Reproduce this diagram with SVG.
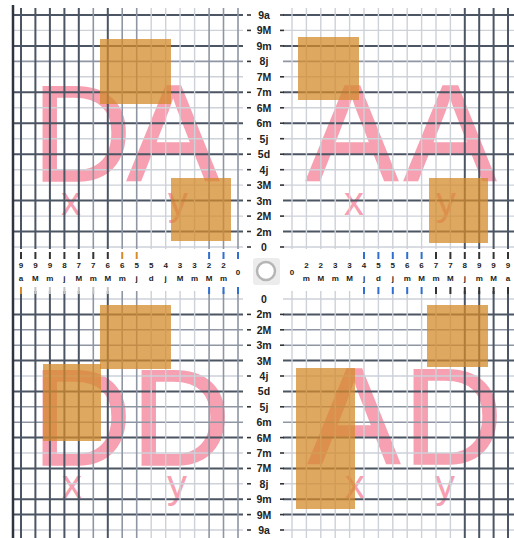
<svg xmlns="http://www.w3.org/2000/svg" width="514" height="538" viewBox="0 0 514 538">
<style>
.big{font-family:"Liberation Sans",Arial,sans-serif;font-size:138px;fill:#f6a0b1;stroke:#f6a0b1;stroke-width:1.5}
.sm{font-family:"Liberation Sans",Arial,sans-serif;font-size:40px;fill:#f6a0b1;text-anchor:middle}
.d{stroke:#4b5563;stroke-width:2}
.m{stroke:#8f96a3;stroke-width:1.6}
.l{stroke:#cdd1d8;stroke-width:1.4}
.box{fill:#d4892a;fill-opacity:0.74}
.vl{font-family:"Liberation Sans",Arial,sans-serif;font-size:10.5px;font-weight:bold;fill:#222;text-anchor:middle}
.hl{font-family:"Liberation Sans",Arial,sans-serif;font-size:8px;font-weight:bold;fill:#222;text-anchor:middle}
.dash{stroke:#333;stroke-width:1.6}
.tb{stroke:#2f6fd0;stroke-width:2}
.to{stroke:#d98a2a;stroke-width:2}
.tk{stroke:#333;stroke-width:2}
.tg{stroke:#c4c4c4;stroke-width:2}
</style>
<rect width="514" height="538" fill="#ffffff"/>
<g id="letters">
<text class="big" x="32" y="181">D</text>
<text class="big" x="173" y="181" text-anchor="middle">A</text>
<text class="sm" x="71" y="215">x</text>
<text class="sm" x="178" y="215">y</text>
<text class="big" x="352" y="181" text-anchor="middle">A</text>
<text class="big" x="450" y="181" text-anchor="middle">A</text>
<text class="sm" x="354" y="215">x</text>
<text class="sm" x="446" y="215">y</text>
<text class="big" x="32" y="465">D</text>
<text class="big" x="131" y="465">D</text>
<text class="sm" x="72" y="498">x</text>
<text class="sm" x="177" y="498">y</text>
<text class="big" x="354" y="464" text-anchor="middle">A</text>
<text class="big" x="403" y="464">D</text>
<text class="sm" x="355" y="498">x</text>
<text class="sm" x="445" y="498">y</text>
</g>
<g id="connectors">
<g id="top-h">
<line class="l" x1="13" y1="247" x2="243" y2="247"/><line class="l" x1="283" y1="247" x2="514" y2="247"/>
<line class="d" x1="13" y1="231.5" x2="243" y2="231.5"/><line class="d" x1="283" y1="231.5" x2="514" y2="231.5"/>
<line class="l" x1="13" y1="216.1" x2="243" y2="216.1"/><line class="l" x1="283" y1="216.1" x2="514" y2="216.1"/>
<line class="d" x1="13" y1="200.6" x2="243" y2="200.6"/><line class="d" x1="283" y1="200.6" x2="514" y2="200.6"/>
<line class="l" x1="13" y1="185.1" x2="243" y2="185.1"/><line class="l" x1="283" y1="185.1" x2="514" y2="185.1"/>
<line class="l" x1="13" y1="169.7" x2="243" y2="169.7"/><line class="l" x1="283" y1="169.7" x2="514" y2="169.7"/>
<line class="d" x1="13" y1="154.2" x2="243" y2="154.2"/><line class="d" x1="283" y1="154.2" x2="514" y2="154.2"/>
<line class="l" x1="13" y1="138.7" x2="243" y2="138.7"/><line class="l" x1="283" y1="138.7" x2="514" y2="138.7"/>
<line class="d" x1="13" y1="123.2" x2="243" y2="123.2"/><line class="d" x1="283" y1="123.2" x2="514" y2="123.2"/>
<line class="l" x1="13" y1="107.8" x2="243" y2="107.8"/><line class="l" x1="283" y1="107.8" x2="514" y2="107.8"/>
<line class="d" x1="13" y1="92.3" x2="243" y2="92.3"/><line class="d" x1="283" y1="92.3" x2="514" y2="92.3"/>
<line class="l" x1="13" y1="76.8" x2="243" y2="76.8"/><line class="l" x1="283" y1="76.8" x2="514" y2="76.8"/>
<line class="m" x1="13" y1="61.4" x2="243" y2="61.4"/><line class="m" x1="283" y1="61.4" x2="514" y2="61.4"/>
<line class="d" x1="13" y1="45.9" x2="243" y2="45.9"/><line class="d" x1="283" y1="45.9" x2="514" y2="45.9"/>
<line class="l" x1="13" y1="30.4" x2="243" y2="30.4"/><line class="l" x1="283" y1="30.4" x2="514" y2="30.4"/>
<line class="d" x1="13" y1="15" x2="243" y2="15"/><line class="d" x1="283" y1="15" x2="514" y2="15"/>
</g>
<g id="bottom-h">
<line class="l" x1="13" y1="299" x2="243" y2="299"/><line class="l" x1="283" y1="299" x2="514" y2="299"/>
<line class="d" x1="13" y1="314.4" x2="243" y2="314.4"/><line class="d" x1="283" y1="314.4" x2="514" y2="314.4"/>
<line class="m" x1="13" y1="329.8" x2="243" y2="329.8"/><line class="m" x1="283" y1="329.8" x2="514" y2="329.8"/>
<line class="m" x1="13" y1="345.2" x2="243" y2="345.2"/><line class="m" x1="283" y1="345.2" x2="514" y2="345.2"/>
<line class="d" x1="13" y1="360.6" x2="243" y2="360.6"/><line class="d" x1="283" y1="360.6" x2="514" y2="360.6"/>
<line class="l" x1="13" y1="376" x2="243" y2="376"/><line class="l" x1="283" y1="376" x2="514" y2="376"/>
<line class="d" x1="13" y1="391.4" x2="243" y2="391.4"/><line class="d" x1="283" y1="391.4" x2="514" y2="391.4"/>
<line class="m" x1="13" y1="406.8" x2="243" y2="406.8"/><line class="m" x1="283" y1="406.8" x2="514" y2="406.8"/>
<line class="m" x1="13" y1="422.2" x2="243" y2="422.2"/><line class="m" x1="283" y1="422.2" x2="514" y2="422.2"/>
<line class="d" x1="13" y1="437.6" x2="243" y2="437.6"/><line class="d" x1="283" y1="437.6" x2="514" y2="437.6"/>
<line class="l" x1="13" y1="453" x2="243" y2="453"/><line class="l" x1="283" y1="453" x2="514" y2="453"/>
<line class="d" x1="13" y1="468.4" x2="243" y2="468.4"/><line class="d" x1="283" y1="468.4" x2="514" y2="468.4"/>
<line class="l" x1="13" y1="483.8" x2="243" y2="483.8"/><line class="l" x1="283" y1="483.8" x2="514" y2="483.8"/>
<line class="d" x1="13" y1="499.2" x2="243" y2="499.2"/><line class="d" x1="283" y1="499.2" x2="514" y2="499.2"/>
<line class="d" x1="13" y1="514.6" x2="243" y2="514.6"/><line class="d" x1="283" y1="514.6" x2="514" y2="514.6"/>
<line class="l" x1="13" y1="530" x2="243" y2="530"/><line class="l" x1="283" y1="530" x2="514" y2="530"/>
</g>
<g id="left-v">
<line class="m" x1="238" y1="8" x2="238" y2="249"/><line class="m" x1="238" y1="291" x2="238" y2="538"/>
<line class="m" x1="223.5" y1="8" x2="223.5" y2="249"/><line class="m" x1="223.5" y1="291" x2="223.5" y2="538"/>
<line class="m" x1="209.1" y1="8" x2="209.1" y2="249"/><line class="m" x1="209.1" y1="291" x2="209.1" y2="538"/>
<line class="l" x1="194.6" y1="8" x2="194.6" y2="249"/><line class="l" x1="194.6" y1="291" x2="194.6" y2="538"/>
<line class="l" x1="180.1" y1="8" x2="180.1" y2="249"/><line class="l" x1="180.1" y1="291" x2="180.1" y2="538"/>
<line class="l" x1="165.7" y1="8" x2="165.7" y2="249"/><line class="l" x1="165.7" y1="291" x2="165.7" y2="538"/>
<line class="l" x1="151.2" y1="8" x2="151.2" y2="249"/><line class="l" x1="151.2" y1="291" x2="151.2" y2="538"/>
<line class="m" x1="136.7" y1="8" x2="136.7" y2="249"/><line class="m" x1="136.7" y1="291" x2="136.7" y2="538"/>
<line class="m" x1="122.2" y1="8" x2="122.2" y2="249"/><line class="m" x1="122.2" y1="291" x2="122.2" y2="538"/>
<line class="d" x1="107.8" y1="8" x2="107.8" y2="249"/><line class="d" x1="107.8" y1="291" x2="107.8" y2="538"/>
<line class="m" x1="93.3" y1="8" x2="93.3" y2="249"/><line class="m" x1="93.3" y1="291" x2="93.3" y2="538"/>
<line class="d" x1="78.8" y1="8" x2="78.8" y2="249"/><line class="d" x1="78.8" y1="291" x2="78.8" y2="538"/>
<line class="d" x1="64.4" y1="8" x2="64.4" y2="249"/><line class="d" x1="64.4" y1="291" x2="64.4" y2="538"/>
<line class="d" x1="49.9" y1="8" x2="49.9" y2="249"/><line class="d" x1="49.9" y1="291" x2="49.9" y2="538"/>
<line class="d" x1="35.4" y1="8" x2="35.4" y2="249"/><line class="d" x1="35.4" y1="291" x2="35.4" y2="538"/>
<line class="d" x1="21" y1="8" x2="21" y2="249"/><line class="d" x1="21" y1="291" x2="21" y2="538"/>
<line stroke="#2f3540" stroke-width="2.5" x1="13" y1="5" x2="13" y2="538"/>
</g>
<g id="right-v">
<line class="l" x1="292" y1="8" x2="292" y2="249"/><line class="l" x1="292" y1="291" x2="292" y2="538"/>
<line class="l" x1="306.4" y1="8" x2="306.4" y2="249"/><line class="l" x1="306.4" y1="291" x2="306.4" y2="538"/>
<line class="l" x1="320.8" y1="8" x2="320.8" y2="249"/><line class="l" x1="320.8" y1="291" x2="320.8" y2="538"/>
<line class="l" x1="335.2" y1="8" x2="335.2" y2="249"/><line class="l" x1="335.2" y1="291" x2="335.2" y2="538"/>
<line class="l" x1="349.6" y1="8" x2="349.6" y2="249"/><line class="l" x1="349.6" y1="291" x2="349.6" y2="538"/>
<line class="l" x1="364" y1="8" x2="364" y2="249"/><line class="l" x1="364" y1="291" x2="364" y2="538"/>
<line class="l" x1="378.4" y1="8" x2="378.4" y2="249"/><line class="l" x1="378.4" y1="291" x2="378.4" y2="538"/>
<line class="l" x1="392.8" y1="8" x2="392.8" y2="249"/><line class="l" x1="392.8" y1="291" x2="392.8" y2="538"/>
<line class="l" x1="407.2" y1="8" x2="407.2" y2="249"/><line class="l" x1="407.2" y1="291" x2="407.2" y2="538"/>
<line class="l" x1="421.6" y1="8" x2="421.6" y2="249"/><line class="l" x1="421.6" y1="291" x2="421.6" y2="538"/>
<line class="l" x1="436" y1="8" x2="436" y2="249"/><line class="l" x1="436" y1="291" x2="436" y2="538"/>
<line class="l" x1="450.4" y1="8" x2="450.4" y2="249"/><line class="l" x1="450.4" y1="291" x2="450.4" y2="538"/>
<line class="d" x1="464.8" y1="8" x2="464.8" y2="249"/><line class="d" x1="464.8" y1="291" x2="464.8" y2="538"/>
<line class="d" x1="479.2" y1="8" x2="479.2" y2="249"/><line class="d" x1="479.2" y1="291" x2="479.2" y2="538"/>
<line class="d" x1="493.6" y1="8" x2="493.6" y2="249"/><line class="d" x1="493.6" y1="291" x2="493.6" y2="538"/>
<line class="d" x1="508" y1="8" x2="508" y2="249"/><line class="d" x1="508" y1="291" x2="508" y2="538"/>
</g>
</g>
<g id="boxes">
<rect id="box-tl1" class="box" x="100" y="39" width="71" height="65"/>
<rect id="box-tl2" class="box" x="171" y="178" width="60" height="63"/>
<rect id="box-tr1" class="box" x="298" y="37" width="61" height="63"/>
<rect id="box-tr2" class="box" x="429" y="178" width="59" height="65"/>
<rect id="box-bl1" class="box" x="100" y="305" width="71" height="64"/>
<rect id="box-bl2" class="box" x="43" y="364" width="58" height="77"/>
<rect id="box-br1" class="box" x="427" y="305" width="61" height="62"/>
<rect id="box-br2" class="box" x="296" y="368" width="59" height="141"/>
</g>
<g id="vertical-ruler">
<g class="dash">
<line x1="247" y1="15" x2="251" y2="15"/><line x1="280" y1="15" x2="284" y2="15"/>
<line x1="247" y1="30.4" x2="251" y2="30.4"/><line x1="280" y1="30.4" x2="284" y2="30.4"/>
<line x1="280" y1="45.9" x2="284" y2="45.9"/>
<line x1="247" y1="61.4" x2="251" y2="61.4"/>
<line x1="280" y1="76.8" x2="284" y2="76.8"/>
<line x1="247" y1="92.3" x2="251" y2="92.3"/><line x1="280" y1="92.3" x2="284" y2="92.3"/>
<line x1="247" y1="107.8" x2="251" y2="107.8"/><line x1="280" y1="107.8" x2="284" y2="107.8"/>
<line x1="280" y1="123.2" x2="284" y2="123.2"/>
<line x1="247" y1="138.7" x2="251" y2="138.7"/><line x1="280" y1="138.7" x2="284" y2="138.7"/>
<line x1="247" y1="154.2" x2="251" y2="154.2"/><line x1="280" y1="154.2" x2="284" y2="154.2"/>
<line x1="247" y1="169.7" x2="251" y2="169.7"/><line x1="280" y1="169.7" x2="284" y2="169.7"/>
<line x1="247" y1="185.1" x2="251" y2="185.1"/><line x1="280" y1="185.1" x2="284" y2="185.1"/>
<line x1="247" y1="200.6" x2="251" y2="200.6"/>
<line x1="247" y1="216.1" x2="251" y2="216.1"/><line x1="280" y1="216.1" x2="284" y2="216.1"/>
<line x1="247" y1="231.5" x2="251" y2="231.5"/>
<line x1="247" y1="247" x2="251" y2="247"/><line x1="280" y1="247" x2="284" y2="247"/>
<line x1="247" y1="314.4" x2="251" y2="314.4"/><line x1="280" y1="314.4" x2="284" y2="314.4"/>
<line x1="247" y1="329.8" x2="251" y2="329.8"/><line x1="280" y1="329.8" x2="284" y2="329.8"/>
<line x1="247" y1="345.2" x2="251" y2="345.2"/><line x1="280" y1="345.2" x2="284" y2="345.2"/>
<line x1="247" y1="376" x2="251" y2="376"/><line x1="280" y1="376" x2="284" y2="376"/>
<line x1="247" y1="406.8" x2="251" y2="406.8"/><line x1="280" y1="406.8" x2="284" y2="406.8"/>
<line x1="247" y1="437.6" x2="251" y2="437.6"/><line x1="280" y1="437.6" x2="284" y2="437.6"/>
<line x1="247" y1="453" x2="251" y2="453"/><line x1="280" y1="453" x2="284" y2="453"/>
<line x1="247" y1="468.4" x2="251" y2="468.4"/><line x1="280" y1="468.4" x2="284" y2="468.4"/>
<line x1="247" y1="483.8" x2="251" y2="483.8"/><line x1="280" y1="483.8" x2="284" y2="483.8"/>
<line x1="247" y1="499.2" x2="251" y2="499.2"/><line x1="280" y1="499.2" x2="284" y2="499.2"/>
<line x1="247" y1="514.6" x2="251" y2="514.6"/><line x1="280" y1="514.6" x2="284" y2="514.6"/>
<line x1="247" y1="530" x2="251" y2="530"/><line x1="280" y1="530" x2="284" y2="530"/>
</g>
<text class="vl" x="264" y="19">9a</text>
<text class="vl" x="264" y="34.4">9M</text>
<text class="vl" x="264" y="49.9">9m</text>
<text class="vl" x="264" y="65.4">8j</text>
<text class="vl" x="264" y="80.8">7M</text>
<text class="vl" x="264" y="96.3">7m</text>
<text class="vl" x="264" y="111.8">6M</text>
<text class="vl" x="264" y="127.2">6m</text>
<text class="vl" x="264" y="142.7">5j</text>
<text class="vl" x="264" y="158.2">5d</text>
<text class="vl" x="264" y="173.7">4j</text>
<text class="vl" x="264" y="189.1">3M</text>
<text class="vl" x="264" y="204.6">3m</text>
<text class="vl" x="264" y="220.1">2M</text>
<text class="vl" x="264" y="235.5">2m</text>
<text class="vl" x="264" y="251">0</text>
<text class="vl" x="264" y="303">0</text>
<text class="vl" x="264" y="318.4">2m</text>
<text class="vl" x="264" y="333.8">2M</text>
<text class="vl" x="264" y="349.2">3m</text>
<text class="vl" x="264" y="364.6">3M</text>
<text class="vl" x="264" y="380">4j</text>
<text class="vl" x="264" y="395.4">5d</text>
<text class="vl" x="264" y="410.8">5j</text>
<text class="vl" x="264" y="426.2">6m</text>
<text class="vl" x="264" y="441.6">6M</text>
<text class="vl" x="264" y="457">7m</text>
<text class="vl" x="264" y="472.4">7M</text>
<text class="vl" x="264" y="487.8">8j</text>
<text class="vl" x="264" y="503.2">9m</text>
<text class="vl" x="264" y="518.6">9M</text>
<text class="vl" x="264" y="534">9a</text>
</g>
<g id="horizontal-ruler">
<line class="tb" x1="238" y1="252" x2="238" y2="259"/><line class="tb" x1="238" y1="287" x2="238" y2="294"/>
<line class="tb" x1="223.5" y1="252" x2="223.5" y2="259"/><line class="tb" x1="223.5" y1="287" x2="223.5" y2="294"/>
<line class="tb" x1="209.1" y1="252" x2="209.1" y2="259"/><line class="tb" x1="209.1" y1="287" x2="209.1" y2="294"/>
<line class="to" x1="136.7" y1="252" x2="136.7" y2="259"/>
<line class="to" x1="122.2" y1="252" x2="122.2" y2="259"/>
<line class="tk" x1="107.8" y1="252" x2="107.8" y2="259"/><line class="tg" x1="107.8" y1="287" x2="107.8" y2="294"/>
<line class="tk" x1="93.3" y1="252" x2="93.3" y2="259"/><line class="tg" x1="93.3" y1="287" x2="93.3" y2="294"/>
<line class="tk" x1="78.8" y1="252" x2="78.8" y2="259"/><line class="tg" x1="78.8" y1="287" x2="78.8" y2="294"/>
<line class="tk" x1="64.4" y1="252" x2="64.4" y2="259"/><line class="tg" x1="64.4" y1="287" x2="64.4" y2="294"/>
<line class="tk" x1="49.9" y1="252" x2="49.9" y2="259"/><line class="tg" x1="49.9" y1="287" x2="49.9" y2="294"/>
<line class="tk" x1="35.4" y1="252" x2="35.4" y2="259"/><line class="tg" x1="35.4" y1="287" x2="35.4" y2="294"/>
<line class="tk" x1="21" y1="252" x2="21" y2="259"/><line class="to" x1="21" y1="287" x2="21" y2="294"/>
<line class="tb" x1="364" y1="252" x2="364" y2="259"/><line class="tb" x1="364" y1="287" x2="364" y2="294"/>
<line class="tb" x1="378.4" y1="252" x2="378.4" y2="259"/><line class="tb" x1="378.4" y1="287" x2="378.4" y2="294"/>
<line class="tb" x1="392.8" y1="252" x2="392.8" y2="259"/><line class="tb" x1="392.8" y1="287" x2="392.8" y2="294"/>
<line class="tb" x1="407.2" y1="252" x2="407.2" y2="259"/><line class="tb" x1="407.2" y1="287" x2="407.2" y2="294"/>
<line class="tb" x1="421.6" y1="252" x2="421.6" y2="259"/><line class="tb" x1="421.6" y1="287" x2="421.6" y2="294"/>
<line class="tk" x1="436" y1="252" x2="436" y2="259"/><line class="tk" x1="436" y1="287" x2="436" y2="294"/>
<line class="tk" x1="450.4" y1="252" x2="450.4" y2="259"/><line class="tk" x1="450.4" y1="287" x2="450.4" y2="294"/>
<line class="tk" x1="464.8" y1="252" x2="464.8" y2="259"/><line class="tk" x1="464.8" y1="287" x2="464.8" y2="294"/>
<line class="tk" x1="479.2" y1="252" x2="479.2" y2="259"/><line class="tk" x1="479.2" y1="287" x2="479.2" y2="294"/>
<line class="tk" x1="493.6" y1="252" x2="493.6" y2="259"/><line class="tk" x1="493.6" y1="287" x2="493.6" y2="294"/>
<line class="tk" x1="508" y1="252" x2="508" y2="259"/><line class="tk" x1="508" y1="287" x2="508" y2="294"/>
<text class="hl" x="238" y="275">0</text>
<text class="hl" x="223.5" y="268">2<tspan x="223.5" y="281">m</tspan></text>
<text class="hl" x="209.1" y="268">2<tspan x="209.1" y="281">M</tspan></text>
<text class="hl" x="194.6" y="268">3<tspan x="194.6" y="281">m</tspan></text>
<text class="hl" x="180.1" y="268">3<tspan x="180.1" y="281">M</tspan></text>
<text class="hl" x="165.7" y="268">4<tspan x="165.7" y="281">j</tspan></text>
<text class="hl" x="151.2" y="268">5<tspan x="151.2" y="281">d</tspan></text>
<text class="hl" x="136.7" y="268">5<tspan x="136.7" y="281">j</tspan></text>
<text class="hl" x="122.2" y="268">6<tspan x="122.2" y="281">m</tspan></text>
<text class="hl" x="107.8" y="268">6<tspan x="107.8" y="281">M</tspan></text>
<text class="hl" x="93.3" y="268">7<tspan x="93.3" y="281">m</tspan></text>
<text class="hl" x="78.8" y="268">7<tspan x="78.8" y="281">M</tspan></text>
<text class="hl" x="64.4" y="268">8<tspan x="64.4" y="281">j</tspan></text>
<text class="hl" x="49.9" y="268">9<tspan x="49.9" y="281">m</tspan></text>
<text class="hl" x="35.4" y="268">9<tspan x="35.4" y="281">M</tspan></text>
<text class="hl" x="21" y="268">9<tspan x="21" y="281">a</tspan></text>
<text class="hl" x="292" y="275">0</text>
<text class="hl" x="306.4" y="268">2<tspan x="306.4" y="281">m</tspan></text>
<text class="hl" x="320.8" y="268">2<tspan x="320.8" y="281">M</tspan></text>
<text class="hl" x="335.2" y="268">3<tspan x="335.2" y="281">m</tspan></text>
<text class="hl" x="349.6" y="268">3<tspan x="349.6" y="281">M</tspan></text>
<text class="hl" x="364" y="268">4<tspan x="364" y="281">j</tspan></text>
<text class="hl" x="378.4" y="268">5<tspan x="378.4" y="281">d</tspan></text>
<text class="hl" x="392.8" y="268">5<tspan x="392.8" y="281">j</tspan></text>
<text class="hl" x="407.2" y="268">6<tspan x="407.2" y="281">m</tspan></text>
<text class="hl" x="421.6" y="268">6<tspan x="421.6" y="281">M</tspan></text>
<text class="hl" x="436" y="268">7<tspan x="436" y="281">m</tspan></text>
<text class="hl" x="450.4" y="268">7<tspan x="450.4" y="281">M</tspan></text>
<text class="hl" x="464.8" y="268">8<tspan x="464.8" y="281">j</tspan></text>
<text class="hl" x="479.2" y="268">9<tspan x="479.2" y="281">m</tspan></text>
<text class="hl" x="493.6" y="268">9<tspan x="493.6" y="281">M</tspan></text>
<text class="hl" x="508" y="268">9<tspan x="508" y="281">a</tspan></text>
</g>
<g id="center-button">
<rect x="253" y="258" width="27" height="27" rx="3" fill="#ececec"/>
<circle cx="266" cy="271" r="9" fill="#ffffff" stroke="#b5b5b5" stroke-width="2.5"/>
</g>
</svg>
